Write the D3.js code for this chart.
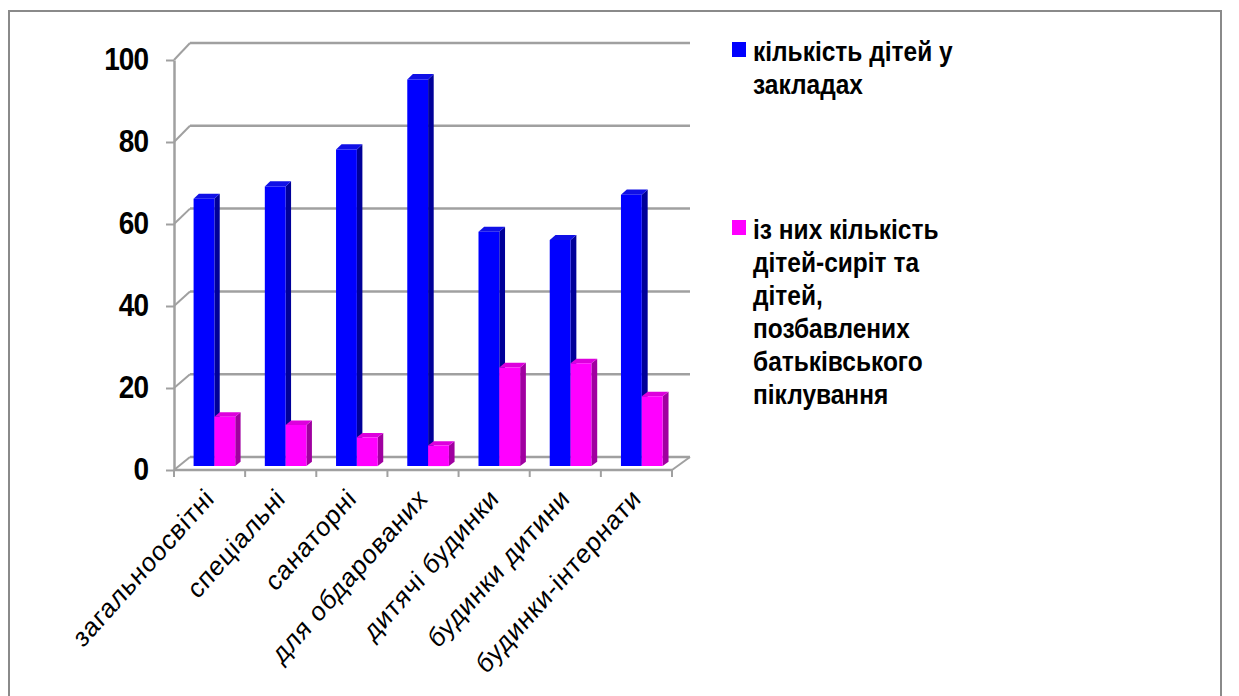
<!DOCTYPE html>
<html>
<head>
<meta charset="utf-8">
<script src="https://cdn.jsdelivr.net/npm/d3@7"></script>
<style>
  body { margin: 0; background: #fff; }
  svg { display: block; }
</style>
</head>
<body>
<div id="chart"></div>
<script>
// categories and values
var categories = ["загальноосвітні", "спеціальні", "санаторні", "для обдарованих",
                  "дитячі будинки", "будинки дитини", "будинки-інтернати"];
var seriesNames = ["кількість дітей у закладах",
                   "із них кількість дітей-сиріт та дітей, позбавлених батьківського піклування"];
var totalChildren = [65, 68, 77, 94, 57, 55, 66];
var orphans = [12, 10, 7, 5, 24, 25, 17];
var yTicks = [0, 20, 40, 60, 80, 100];
// legend text split the way the picture wraps it
var legendLines = [["кількість дітей у", "закладах"],
                   ["із них кількість", "дітей-сиріт та", "дітей,", "позбавлених", "батьківського", "піклування"]];

var width = 1239, height = 696;
var colors = [{front: "#0000ff", side: "#000099", top: "#1010e6"},
              {front: "#ff00ff", side: "#a000a0", top: "#dd00dd"}];
var stretch = 1.12; // the source picture is a bit taller than wide

var svg = d3.select("#chart").append("svg")
    .attr("width", width)
    .attr("height", height);

// outer frame (open at the bottom)
svg.append("path")
    .attr("d", "M9,700 L9,11 L1221,11 L1221,700")
    .attr("fill", "none")
    .attr("stroke", "#8a8a8a")
    .attr("stroke-width", 2);

// front plane and back plane of the 3d box
var yFront = d3.scaleLinear().domain([0, 100]).range([470, 60]);
var yBack = d3.scaleLinear().domain([0, 100]).range([457, 43]);
var xFront = d3.scaleBand().domain(categories).range([174, 672]);
var xBack = d3.scaleBand().domain(categories).range([190, 690]);
var sub = d3.scaleBand().domain([0, 1]).range([0, 1]).paddingOuter(0.71);

// project a point: category, fraction inside band, value, depth 0..1
function pt(cat, frac, v, d) {
    var xf = xFront(cat) + frac * xFront.bandwidth();
    var xb = xBack(cat) + frac * xBack.bandwidth();
    var yf = yFront(v), yb = yBack(v);
    return [xf + d * (xb - xf), yf + d * (yb - yf)];
}

var gridColor = "#a0a0a0";
var grid = svg.append("g");

// back wall gridlines
grid.selectAll("line.back").data(yTicks).enter().append("line")
    .attr("x1", xBack.range()[0]).attr("x2", xBack.range()[1])
    .attr("y1", function(d) { return yBack(d); })
    .attr("y2", function(d) { return yBack(d); })
    .attr("stroke", gridColor).attr("stroke-width", 2.5);

// side wall diagonals
grid.selectAll("line.side").data(yTicks).enter().append("line")
    .attr("x1", xFront.range()[0]).attr("x2", xBack.range()[0])
    .attr("y1", function(d) { return yFront(d); })
    .attr("y2", function(d) { return yBack(d); })
    .attr("stroke", gridColor).attr("stroke-width", 2);

// floor right edge
grid.append("line")
    .attr("x1", xFront.range()[1]).attr("y1", yFront(0))
    .attr("x2", xBack.range()[1]).attr("y2", yBack(0))
    .attr("stroke", gridColor).attr("stroke-width", 2);

// floor front edge
grid.append("line")
    .attr("x1", xFront.range()[0]).attr("y1", yFront(0))
    .attr("x2", xFront.range()[1]).attr("y2", yFront(0))
    .attr("stroke", gridColor).attr("stroke-width", 2.5);

// category ticks at band edges
var edges = categories.map(function(c) { return xFront(c); }).concat([xFront.range()[1]]);
grid.selectAll("line.xt").data(edges).enter().append("line")
    .attr("x1", function(d) { return d; }).attr("x2", function(d) { return d; })
    .attr("y1", yFront(0)).attr("y2", yFront(0) + 7)
    .attr("stroke", gridColor).attr("stroke-width", 2);

// y axis
var yAxis = svg.append("g")
    .attr("transform", "translate(" + xFront.range()[0] + ",0)")
    .call(d3.axisLeft(yFront).tickValues(yTicks).tickSize(8).tickSizeOuter(0).tickPadding(18));
yAxis.select(".domain").attr("stroke", gridColor).attr("stroke-width", 2.5);
yAxis.selectAll(".tick line").attr("stroke", gridColor).attr("stroke-width", 2);
yAxis.selectAll(".tick text")
    .attr("x", null).attr("dy", null)
    .attr("transform", "translate(-26,9) scale(1," + stretch + ")")
    .attr("font-family", "Liberation Sans, Arial, sans-serif")
    .attr("font-size", 28)
    .attr("font-weight", "bold")
    .attr("letter-spacing", -1)
    .attr("fill", "#000");

// bars
var d0 = 0.3, d1 = 0.63;
var rows = [];
categories.forEach(function(c, i) {
    rows.push({cat: c, s: 0, v: totalChildren[i]});
    rows.push({cat: c, s: 1, v: orphans[i]});
});

function poly(points) { return "M" + points.map(function(p) { return p.join(","); }).join("L") + "Z"; }

var bars = svg.append("g").selectAll("g").data(rows).enter().append("g");
bars.append("path")
    .attr("d", function(d) {
        var f0 = sub(d.s), f1 = f0 + sub.bandwidth();
        return poly([pt(d.cat, f1, 0, d0), pt(d.cat, f1, 0, d1), pt(d.cat, f1, d.v, d1), pt(d.cat, f1, d.v, d0)]);
    })
    .attr("fill", function(d) { return colors[d.s].side; });
bars.append("path")
    .attr("d", function(d) {
        var f0 = sub(d.s), f1 = f0 + sub.bandwidth();
        return poly([pt(d.cat, f0, d.v, d0), pt(d.cat, f1, d.v, d0), pt(d.cat, f1, d.v, d1), pt(d.cat, f0, d.v, d1)]);
    })
    .attr("fill", function(d) { return colors[d.s].top; });
bars.append("path")
    .attr("d", function(d) {
        var f0 = sub(d.s), f1 = f0 + sub.bandwidth();
        return poly([pt(d.cat, f0, 0, d0), pt(d.cat, f1, 0, d0), pt(d.cat, f1, d.v, d0), pt(d.cat, f0, d.v, d0)]);
    })
    .attr("fill", function(d) { return colors[d.s].front; });

// rotated category labels
svg.append("g").selectAll("text").data(categories).enter().append("text")
    .attr("transform", function(d) {
        return "translate(" + (xFront(d) + xFront.bandwidth() / 2 + 6) + "," + 500 + ") scale(1," + stretch + ") rotate(-45)";
    })
    .attr("text-anchor", "end")
    .attr("font-family", "Liberation Sans, Arial, sans-serif")
    .attr("font-size", 24.5)
    .attr("letter-spacing", 0.8)
    .attr("fill", "#000")
    .text(function(d) { return d; });

// legend
var legendTop = [61, 239];
var legend = svg.append("g");
legendLines.forEach(function(lines, i) {
    legend.append("rect")
        .attr("x", 732).attr("y", legendTop[i] - 19)
        .attr("width", 14).attr("height", 15)
        .attr("fill", colors[i].front);
    var g = legend.append("g").attr("aria-label", seriesNames[i]);
    g.selectAll("text").data(lines).enter().append("text")
        .attr("transform", function(d, j) {
            return "translate(753," + (legendTop[i] + j * 33) + ") scale(1," + stretch + ")";
        })
        .attr("font-family", "Liberation Sans, Arial, sans-serif")
        .attr("font-size", 24.5)
        .attr("font-weight", "bold")
        .attr("fill", "#000")
        .text(function(d) { return d; });
});
</script>
</body>
</html>
